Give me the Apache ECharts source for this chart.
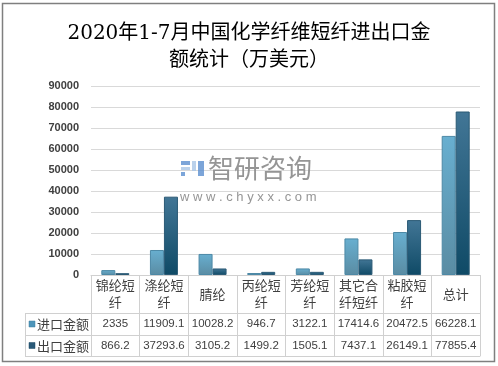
<!DOCTYPE html>
<html><head><meta charset="utf-8">
<script src="https://cdn.jsdelivr.net/npm/echarts@6/dist/echarts.min.js"></script>
<style>html,body{margin:0;padding:0;background:#fff}#c{width:498px;height:366px}</style>
</head><body><div id="c"></div><script>
const titleText = '2020年1-7月中国化学纤维短纤进出口金\n额统计（万美元）';
const categories = ['锦纶短纤','涤纶短纤','腈纶','丙纶短纤','芳纶短纤','其它合纤短纤','粘胶短纤','总计'];
const headerLabels = ['锦纶短\n纤','涤纶短\n纤','腈纶','丙纶短\n纤','芳纶短\n纤','其它合\n纤短纤','粘胶短\n纤','总计'];
const seriesNames = ['进口金额','出口金额'];
const importValues = [2335, 11909.1, 10028.2, 946.7, 3122.1, 17414.6, 20472.5, 66228.1];
const exportValues = [866.2, 37293.6, 3105.2, 1499.2, 1505.1, 7437.1, 26149.1, 77855.4];
const yMin = 0, yMax = 90000, yInterval = 10000;

const chart = echarts.init(document.getElementById('c'), null, {renderer: 'canvas'});
const lineC = '#d0d0d0';
const textC = '#404040';
const sansF = "'Noto Sans CJK SC', 'Liberation Sans', sans-serif";
const numF = "'Liberation Sans', 'Noto Sans CJK SC', sans-serif";

function tableAxis(offset, values, margin, showLabel, showTick) {
  return {
    type: 'category', data: categories, gridIndex: 0, position: 'bottom', offset: offset,
    axisLine: {show: true, lineStyle: {color: lineC, width: 1}},
    axisTick: {show: showTick, length: 81, lineStyle: {color: lineC, width: 1}},
    axisLabel: {
      show: showLabel, interval: 0, margin: margin, verticalAlign: 'middle',
      color: textC, fontSize: values === headerLabels ? 13 : 11.5, lineHeight: 17,
      fontFamily: values === headerLabels ? sansF : numF,
      formatter: function (v, i) { return values ? String(values[i]) : ''; }
    },
    splitLine: {show: false}
  };
}

const option = {
  animation: false,
  backgroundColor: '#fff',
  title: {
    text: titleText, left: 'center', top: 15,
    textStyle: {fontSize: 20, fontWeight: 'normal', color: '#000', lineHeight: 27,
      fontFamily: "'DejaVu Serif', 'Noto Sans CJK SC', serif"}
  },
  grid: {left: 91, right: 18, top: 86, bottom: 91},
  xAxis: [
    tableAxis(0, headerLabels, 19, true, true),
    tableAxis(38, importValues, 11, true, false),
    tableAxis(60, exportValues, 10.5, true, false),
    tableAxis(81, null, 10, false, false)
  ],
  yAxis: {
    type: 'value', min: yMin, max: yMax, interval: yInterval,
    axisLine: {show: false}, axisTick: {show: false},
    splitLine: {lineStyle: {color: '#d9d9d9', width: 1}},
    axisLabel: {color: textC, fontSize: 11, margin: 12, fontFamily: numF, fontWeight: 'bold',
      formatter: function (v) { return String(v); }}
  },
  series: [
    {
      name: seriesNames[0], type: 'bar', xAxisIndex: 0, data: importValues,
      barWidth: 14, barGap: 0,
      itemStyle: {
        color: new echarts.graphic.LinearGradient(0, 0, 0, 1, [
          {offset: 0, color: '#68afd0'}, {offset: 1, color: '#5a8ca3'}]),
        borderColor: '#4d89a6', borderWidth: 1
      }
    },
    {
      name: seriesNames[1], type: 'bar', xAxisIndex: 0, data: exportValues,
      barWidth: 14, barGap: 0,
      itemStyle: {
        color: new echarts.graphic.LinearGradient(0, 0, 0, 1, [
          {offset: 0, color: '#427696'}, {offset: 1, color: '#0f4a66'}]),
        borderColor: '#2b5a75', borderWidth: 1
      }
    }
  ],
  graphic: [
    {type: 'rect', shape: {x: 2.5, y: 3.5, width: 492, height: 358}, style: {fill: 'none', stroke: '#7f7f7f', lineWidth: 1.5}, silent: true},
    {type: 'line', shape: {x1: 25, y1: 313.5, x2: 91, y2: 313.5}, style: {stroke: lineC, lineWidth: 1}},
    {type: 'line', shape: {x1: 25, y1: 335.5, x2: 91, y2: 335.5}, style: {stroke: lineC, lineWidth: 1}},
    {type: 'line', shape: {x1: 25, y1: 356.5, x2: 91, y2: 356.5}, style: {stroke: lineC, lineWidth: 1}},
    {type: 'line', shape: {x1: 25.5, y1: 313, x2: 25.5, y2: 357}, style: {stroke: lineC, lineWidth: 1}},
    {type: 'rect', shape: {x: 29, y: 321, width: 6, height: 6}, style: {fill: '#4d95ba', stroke: '#3f7d9c', lineWidth: 0.5}},
    {type: 'text', x: 37, y: 324.5, style: {text: seriesNames[0], fill: textC, fontSize: 13, fontFamily: sansF, verticalAlign: 'middle'}},
    {type: 'rect', shape: {x: 29, y: 342.5, width: 6, height: 6}, style: {fill: '#2a5a78', stroke: '#1e4a66', lineWidth: 0.5}},
    {type: 'text', x: 37, y: 346, style: {text: seriesNames[1], fill: textC, fontSize: 13, fontFamily: sansF, verticalAlign: 'middle'}},
    // watermark
    {type: 'rect', shape: {x: 181, y: 161, width: 9, height: 4}, style: {fill: '#5b8fcf', opacity: 0.8}, z: 50},
    {type: 'rect', shape: {x: 181, y: 167, width: 9, height: 3}, style: {fill: '#a9c6e6', opacity: 0.8}, z: 50},
    {type: 'rect', shape: {x: 181, y: 172, width: 4, height: 4}, style: {fill: '#5b8fcf', opacity: 0.8}, z: 50},
    {type: 'rect', shape: {x: 192, y: 161, width: 4, height: 10}, style: {fill: '#a9c6e6', opacity: 0.8}, z: 50},
    {type: 'rect', shape: {x: 198, y: 161, width: 6, height: 15}, style: {fill: '#5b8fcf', opacity: 0.8}, z: 50},
    {type: 'text', x: 208, y: 168.5, style: {text: '智研咨询', fill: '#8a8a8a', fontSize: 26, fontFamily: sansF, verticalAlign: 'middle', opacity: 0.9}, z: 50},
    {type: 'text', x: 180, y: 197, style: {text: 'w w w . c h y x x . c o m', fill: '#8a8a8a', fontSize: 13, fontFamily: numF, verticalAlign: 'middle', opacity: 0.9}, z: 50}
  ]
};
chart.setOption(option);
</script></body></html>
